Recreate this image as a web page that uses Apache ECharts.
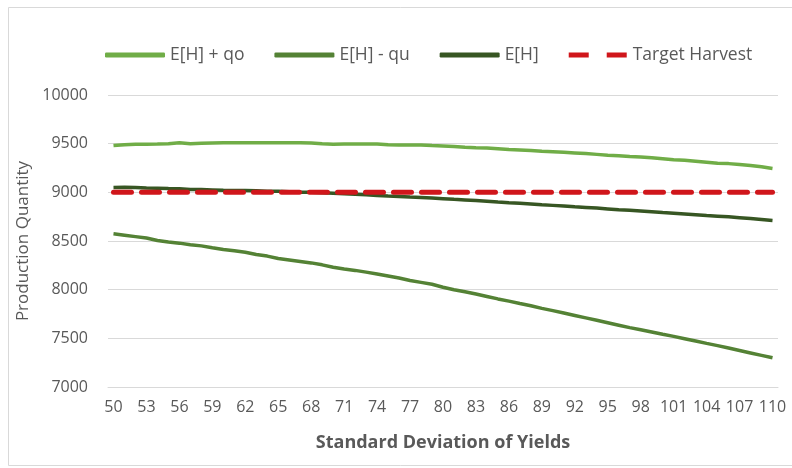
<!DOCTYPE html>
<html>
<head>
<meta charset="utf-8">
<script src="https://cdn.jsdelivr.net/npm/echarts@6/dist/echarts.min.js"></script>
<style>
  html, body { margin: 0; padding: 0; background: #fff; }
  #main { width: 792px; height: 468px; }
</style>
</head>
<body>
<div id="main"></div>
<script>
// standard deviation of yields, 50..110
var sdValues = [50,51,52,53,54,55,56,57,58,59,60,61,62,63,64,65,66,67,68,69,70,71,72,73,74,75,76,77,78,79,80,
  81,82,83,84,85,86,87,88,89,90,91,92,93,94,95,96,97,98,99,100,101,102,103,104,105,106,107,108,109,110];

var upperQo = [9480,9490,9495,9495,9497,9500,9510,9500,9505,9508,9510,9510,9510,9510,9510,9510,9510,9510,9508,9500,9495,
  9497,9497,9497,9497,9490,9487,9487,9487,9480,9475,9470,9462,9458,9455,9448,9440,9435,9430,9422,9418,
  9412,9405,9398,9390,9382,9375,9368,9362,9355,9345,9335,9330,9320,9310,9300,9295,9285,9275,9262,9245];

var lowerQu = [8575,8560,8545,8530,8505,8490,8478,8462,8450,8430,8412,8400,8385,8362,8345,8320,8305,8290,8275,8255,8230,
  8212,8198,8180,8160,8140,8120,8095,8075,8055,8025,8000,7978,7955,7930,7905,7882,7858,7835,7808,7785,
  7760,7735,7710,7685,7660,7635,7610,7588,7565,7542,7520,7496,7472,7448,7425,7400,7375,7350,7325,7300];

var expected = [9050,9052,9050,9045,9043,9040,9038,9030,9028,9025,9022,9020,9018,9015,9012,9010,9005,9002,9000,8995,8990,
  8985,8980,8975,8968,8962,8958,8952,8948,8942,8935,8928,8922,8915,8908,8900,8893,8887,8880,8872,8866,
  8860,8852,8845,8838,8830,8822,8815,8808,8800,8792,8785,8778,8770,8762,8755,8748,8740,8730,8720,8710];

var target = sdValues.map(function () { return 9000; });

var chart = echarts.init(document.getElementById('main'));
var textColor = '#595959';
var font = 'Open Sans';

option = {
    backgroundColor: '#fff',
    textStyle: { fontFamily: font },
    graphic: [{
        type: 'rect',
        shape: { x: 8.5, y: 7.5, width: 800, height: 458 },
        style: { fill: 'none', stroke: '#d9d9d9', lineWidth: 1 },
        silent: true
    }],
    legend: {
        left: 100,
        top: 41,
        itemWidth: 60,
        itemHeight: 5,
        itemGap: 30,
        textStyle: { color: textColor, fontSize: 17.5, fontFamily: font },
        data: [
            { name: 'E[H] + qo', icon: 'roundRect' },
            { name: 'E[H] - qu', icon: 'roundRect' },
            { name: 'E[H]', icon: 'roundRect' },
            { name: 'Target Harvest', icon: 'path://M0,0H20V5H0Z M38,0H58V5H38Z', itemStyle: { color: '#d0161b' } }
        ]
    },
    grid: {
        left: 108,
        right: 14,
        top: 95,
        bottom: 81
    },
    xAxis: {
        type: 'category',
        data: sdValues,
        boundaryGap: true,
        name: 'Standard Deviation of Yields',
        nameLocation: 'middle',
        nameGap: 47,
        nameTextStyle: { color: textColor, fontSize: 18, fontWeight: 'bold', fontFamily: font },
        axisLine: { lineStyle: { color: '#d9d9d9' } },
        axisTick: { show: false },
        axisLabel: { interval: 2, color: textColor, fontSize: 16, margin: 12 }
    },
    yAxis: {
        type: 'value',
        min: 7000,
        max: 10000,
        interval: 500,
        name: 'Production Quantity',
        nameLocation: 'middle',
        nameGap: 68,
        nameTextStyle: { color: textColor, fontSize: 17, fontFamily: font },
        axisLine: { show: false },
        axisTick: { show: false },
        axisLabel: {
            color: textColor, fontSize: 16, margin: 20,
            formatter: function (v) { return String(v); }
        },
        splitLine: { lineStyle: { color: '#d9d9d9' } }
    },
    series: [
        {
            name: 'E[H] + qo',
            type: 'line',
            symbol: 'none',
            data: upperQo,
            itemStyle: { color: '#70ad47' },
            lineStyle: { color: '#70ad47', width: 3.5 },
            z: 3
        },
        {
            name: 'E[H] - qu',
            type: 'line',
            symbol: 'none',
            data: lowerQu,
            itemStyle: { color: '#548235' },
            lineStyle: { color: '#548235', width: 3.5 },
            z: 3
        },
        {
            name: 'E[H]',
            type: 'line',
            symbol: 'none',
            data: expected,
            itemStyle: { color: '#375623' },
            lineStyle: { color: '#375623', width: 3.5 },
            z: 3
        },
        {
            name: 'Target Harvest',
            type: 'line',
            symbol: 'none',
            data: target,
            itemStyle: { color: '#d0161b' },
            lineStyle: { color: '#d0161b', width: 5, type: [18, 10], cap: 'round' },
            z: 4
        }
    ]
};
chart.setOption(option);
</script>
</body>
</html>
